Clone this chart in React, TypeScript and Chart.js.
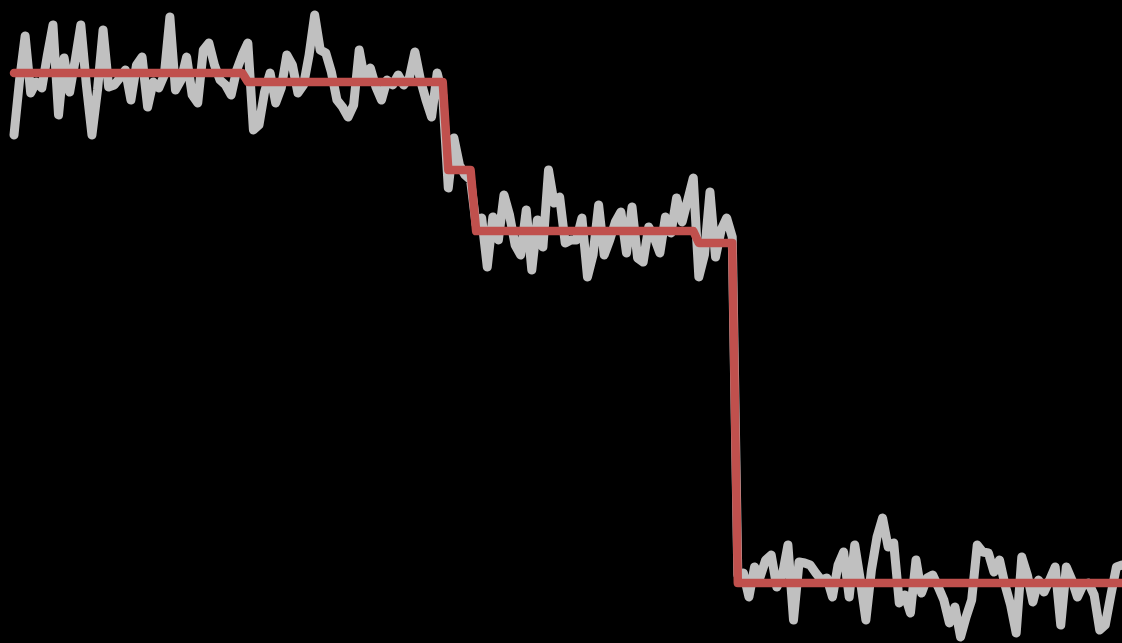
import React, { useEffect, useRef } from "react";
import { Chart, registerables } from "chart.js";

Chart.register(...registerables);

// Noisy measured signal (gray), one value per sample
const signal: number[] = [
  5.08, 5.63, 6.07, 5.50, 5.61, 5.55, 5.88, 6.18, 5.28, 5.85,
  5.51, 5.83, 6.18, 5.58, 5.08, 5.53, 6.13, 5.56, 5.58, 5.65,
  5.73, 5.43, 5.78, 5.86, 5.36, 5.61, 5.55, 5.68, 6.26, 5.53,
  5.63, 5.86, 5.48, 5.40, 5.93, 6.00, 5.78, 5.63, 5.58, 5.48,
  5.73, 5.88, 6.00, 5.13, 5.18, 5.51, 5.70, 5.40, 5.55, 5.88,
  5.78, 5.50, 5.58, 5.88, 6.28, 5.93, 5.90, 5.71, 5.43, 5.36,
  5.26, 5.38, 5.93, 5.63, 5.75, 5.56, 5.43, 5.63, 5.58, 5.68,
  5.58, 5.65, 5.91, 5.63, 5.43, 5.26, 5.70, 5.48, 4.55, 5.05,
  4.78, 4.68, 4.63, 4.18, 4.25, 3.76, 4.26, 4.03, 4.48, 4.28,
  3.98, 3.88, 4.33, 3.73, 4.23, 3.96, 4.73, 4.40, 4.46, 4.00,
  4.03, 4.03, 4.25, 3.66, 3.88, 4.38, 3.88, 4.03, 4.21, 4.31,
  3.90, 4.36, 3.85, 3.81, 4.16, 4.05, 3.90, 4.26, 4.10, 4.45,
  4.21, 4.43, 4.65, 3.66, 3.88, 4.51, 3.86, 4.13, 4.25, 4.06,
  0.68, 0.70, 0.46, 0.76, 0.66, 0.83, 0.88, 0.56, 0.68, 0.98,
  0.23, 0.81, 0.80, 0.78, 0.70, 0.63, 0.65, 0.46, 0.78, 0.91,
  0.46, 0.98, 0.63, 0.23, 0.73, 1.06, 1.25, 0.96, 1.00, 0.40,
  0.48, 0.30, 0.83, 0.50, 0.65, 0.68, 0.56, 0.43, 0.20, 0.36,
  0.06, 0.26, 0.43, 0.98, 0.91, 0.90, 0.71, 0.83, 0.58, 0.38,
  0.10, 0.86, 0.68, 0.41, 0.63, 0.51, 0.63, 0.76, 0.18, 0.76,
  0.63, 0.46, 0.58, 0.60, 0.48, 0.13, 0.18, 0.48, 0.76, 0.78,
];

// Fitted step levels (red) and the sample index where each level begins
const stepLevels: number[] = [5.70, 5.61, 4.73, 4.12, 4.00, 0.60];
const stepStarts: number[] = [0, 42, 78, 83, 123, 130];

const yMin = 0;
const yMax = 6.43;

function buildSteps(n: number): number[] {
  const out: number[] = [];
  for (let i = 0; i < n; i++) {
    let level = stepLevels[0];
    for (let s = 0; s < stepStarts.length; s++) {
      if (i >= stepStarts[s]) level = stepLevels[s];
    }
    out.push(level);
  }
  return out;
}

export default function App() {
  const ref = useRef<HTMLCanvasElement | null>(null);

  useEffect(() => {
    document.body.style.margin = "0";
    document.body.style.background = "#000";
    const canvas = ref.current;
    if (!canvas) return;
    const steps = buildSteps(signal.length);
    const chart = new Chart(canvas, {
      type: "line",
      data: {
        datasets: [
          {
            data: steps.map((v, i) => ({ x: i, y: v })),
            borderColor: "#c0504d",
            borderWidth: 8.5,
            borderJoinStyle: "round",
            borderCapStyle: "round",
            pointRadius: 0,
            tension: 0,
            clip: false as any,
            order: 0,
          },
          {
            data: signal.map((v, i) => ({ x: i, y: v })),
            borderColor: "#c0c0c0",
            borderWidth: 9,
            borderJoinStyle: "round",
            borderCapStyle: "round",
            pointRadius: 0,
            tension: 0,
            clip: false as any,
            order: 1,
          },
        ],
      },
      options: {
        animation: false,
        responsive: false,
        maintainAspectRatio: false,
        layout: { padding: { left: 14, right: 0, top: 0, bottom: 0 } },
        plugins: { legend: { display: false }, tooltip: { enabled: false } },
        scales: {
          x: { type: "linear", display: false, min: 0, max: signal.length - 1 },
          y: { type: "linear", display: false, min: yMin, max: yMax },
        },
      },
    });
    return () => chart.destroy();
  }, []);

  return (
    <div style={{ width: 1122, height: 643, background: "#000" }}>
      <canvas ref={ref} width={1122} height={643} style={{ display: "block", background: "#000" }} />
    </div>
  );
}
